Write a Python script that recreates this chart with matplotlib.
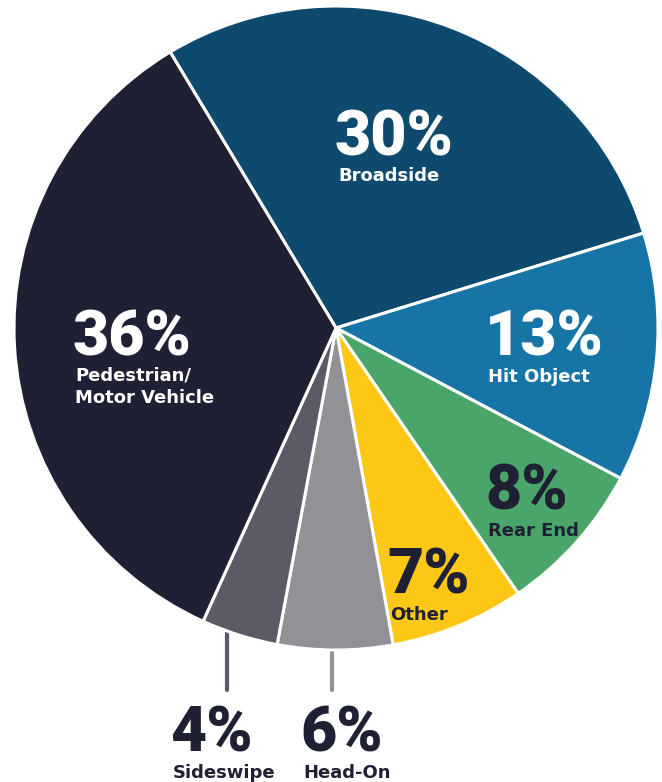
import numpy as np
import matplotlib
matplotlib.use("Agg")
import matplotlib.pyplot as plt
from matplotlib import font_manager as fm

# crash types, clockwise from the top-left
categories = ["Broadside", "Hit Object", "Rear End", "Other", "Head-On", "Sideswipe", "Pedestrian/\nMotor Vehicle"]
shares = [30, 13, 8, 7, 6, 4, 36]
pct_labels = ["30%", "13%", "8%", "7%", "6%", "4%", "36%"]

colors = ["#0d4a6e", "#1675a6", "#4aa56b", "#fdc715", "#929196", "#5b5a66", "#1f2033"]
text_colors = ["white", "white", "#1f2033", "#1f2033", "#1f2033", "#1f2033", "white"]

W, H = 662, 782
cx, cy, R = 336, 328, 322          # pie centre / radius, pixels from top-left

def fy(y):
    return H - y

# pick a heavy, non-condensed Roboto file explicitly (font matching is not stable here)
def heavy_font():
    cands = [f for f in fm.fontManager.ttflist
             if f.name == "Roboto" and "ondensed" not in f.fname and "ondensed" not in str(f.stretch)
             and "Italic" not in f.fname and f.style == "normal"]
    if not cands:
        return fm.FontProperties(family="DejaVu Sans", weight="bold")
    def w(f):
        try:
            return int(f.weight)
        except (TypeError, ValueError):
            return {"black": 900, "heavy": 900, "bold": 700}.get(str(f.weight), 400)
    best = min(cands, key=lambda f: abs(w(f) - 900))
    return fm.FontProperties(fname=best.fname)

num_font = heavy_font()

fig = plt.figure(figsize=(W / 100, H / 100), dpi=100)
ax = fig.add_axes([0, 0, 1, 1])

wedges, _ = ax.pie(shares, colors=colors, startangle=121, counterclock=False,
                   center=(cx, fy(cy)), radius=R, frame=True,
                   wedgeprops=dict(edgecolor="white", linewidth=2.2))
ax.set_xlim(0, W)
ax.set_ylim(0, H)
ax.set_aspect("equal")
ax.axis("off")

# label anchors: left x, baseline of the big number (pixels from top)
anchors = [(338, 155), (488, 356), (488, 510), (390, 594), (303, 752), (173, 752), (75, 355)]

for i, (x, yb) in enumerate(anchors):
    ax.text(x - 3, fy(yb), pct_labels[i], ha="left", va="baseline", fontproperties=num_font,
            fontsize=45, color=text_colors[i])
    for k, line in enumerate(categories[i].split("\n")):
        ax.text(x, fy(yb + 26 + 22 * k), line, ha="left", va="baseline",
                fontsize=13, fontweight="bold", color=text_colors[i],
                family="DejaVu Sans")

# leader lines for the two small outside labels
for i, lx in [(5, 227), (4, 332)]:
    y_edge = cy + np.sqrt(R ** 2 - (lx - cx) ** 2)
    ax.plot([lx, lx], [fy(y_edge - 4), fy(690)], color=colors[i], lw=3,
            solid_capstyle="round", zorder=0)

fig.savefig("out.png", dpi=100)
